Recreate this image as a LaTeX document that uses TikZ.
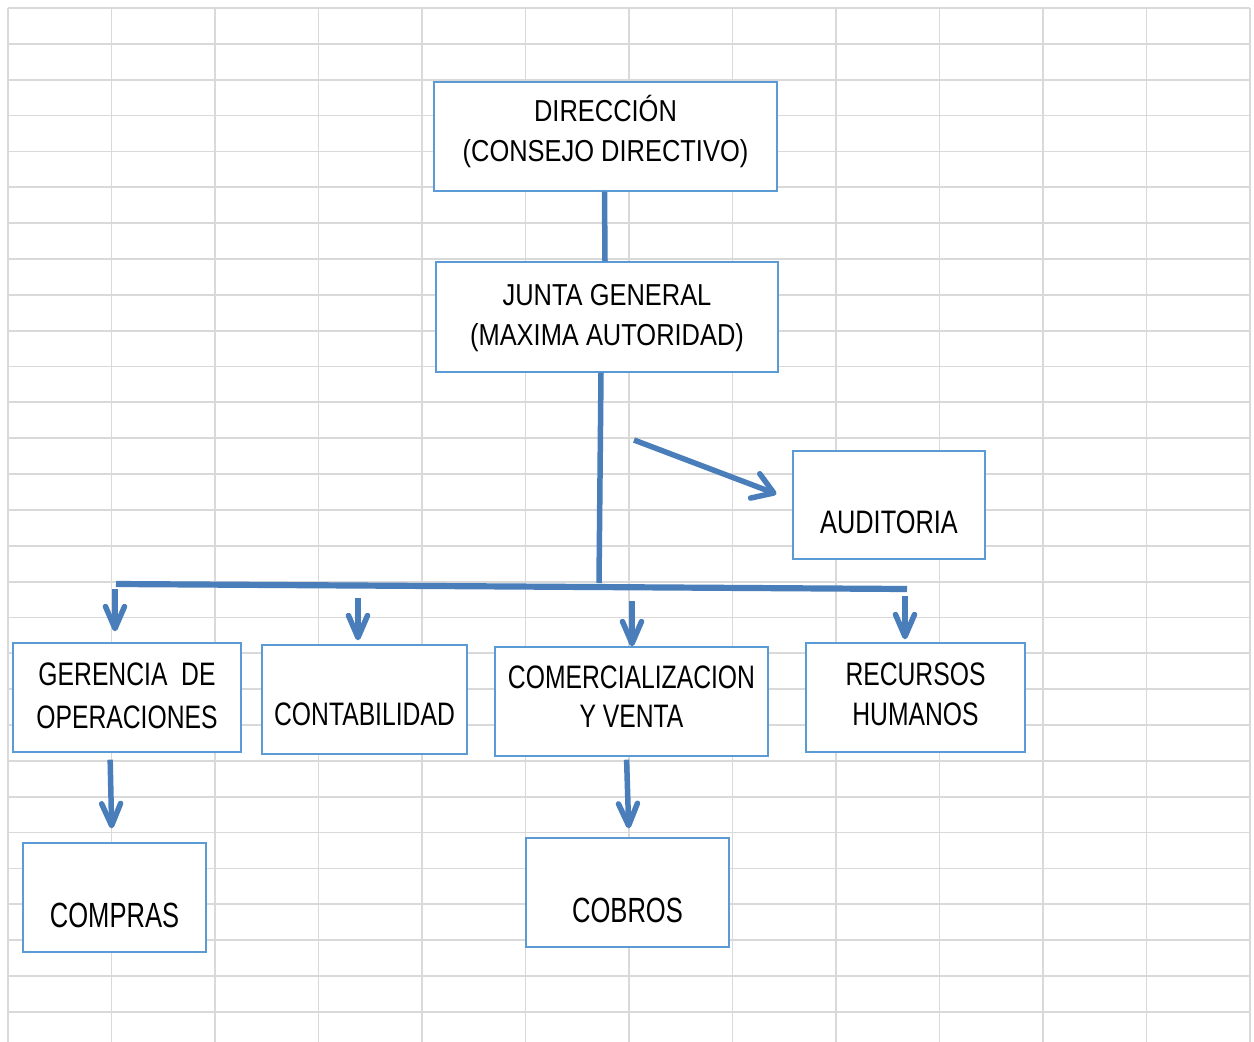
\documentclass[tikz,border=0pt]{standalone}
\usepackage{fontspec}
\setmainfont{Liberation Sans}
\newfontfamily\fA[FakeStretch=0.84]{Liberation Sans}
\newfontfamily\fB[FakeStretch=0.76]{Liberation Sans}
\newfontfamily\fC[FakeStretch=0.78]{Liberation Sans}
\newfontfamily\fD[FakeStretch=0.73]{Liberation Sans}
\newcommand\twoline[2]{\vtop{\halign{\hfil##\hfil\cr#1\cr#2\cr}}}
\usetikzlibrary{arrows.meta}
\definecolor{gridc}{RGB}{217,217,217}
\definecolor{boxc}{RGB}{91,155,213}
\definecolor{linec}{RGB}{74,126,187}
\begin{document}
\begin{tikzpicture}[x=1pt,y=-1pt,
  box/.style={draw=boxc, line width=1.4pt, fill=white, inner sep=0pt},
  ftop/.style={font={\fA\fontsize{30.3}{40}\selectfont}},
  fbot/.style={font={\fB\fontsize{32.5}{#1}\selectfont}},
  faud/.style={font={\fC\fontsize{32.5}{40}\selectfont}},
  fbig/.style={font={\fD\fontsize{35}{40}\selectfont}},
  conn/.style={draw=linec, line width=5.5pt},
  arr/.style={conn, -{Straight Barb[length=22pt,width=19pt,round]}},
  arrb/.style={conn, -{Straight Barb[length=20pt,width=26pt,round]}},
  gridl/.style={draw=gridc, line width=1.8pt}]
\useasboundingbox (0,0) rectangle (1254,1042);
\fill[white] (0,0) rectangle (1254,1042);
% spreadsheet grid
\foreach \k in {0,...,12} \draw[gridl] ({8+103.5*\k},8) -- ({8+103.5*\k},1042);
\foreach \k in {0,...,28} \draw[gridl] (8,{8+35.85*\k}) -- (1250,{8+35.85*\k});
% boxes
\node[box, ftop, minimum width=343pt, minimum height=109pt, text height=0pt, text depth=29.6pt] (dir) at (605.5,136.5) {\twoline{DIRECCIÓN}{(CONSEJO DIRECTIVO)}};
\node[box, ftop, minimum width=342pt, minimum height=110pt, text height=0pt, text depth=24pt] (junta) at (607,317) {\twoline{JUNTA GENERAL}{(MAXIMA AUTORIDAD)}};
\node[box, faud, minimum width=192pt, minimum height=108pt, text height=56.6pt, text depth=0pt] (audit) at (889,505) {AUDITORIA};
\node[box, fbot=43.3, minimum width=228pt, minimum height=109pt, text height=0pt, text depth=25pt] (ger) at (127,697.5) {\twoline{GERENCIA\ \ DE}{OPERACIONES}};
\node[box, fbot=40, minimum width=205pt, minimum height=109pt, text height=51pt, text depth=0pt] (cont) at (364.5,699.5) {CONTABILIDAD};
\node[box, fbot=39.4, minimum width=273pt, minimum height=109pt, text height=0pt, text depth=26.4pt] (comer) at (631.5,701.5) {\twoline{COMERCIALIZACION}{Y VENTA}};
\node[box, fbot=40, minimum width=219pt, minimum height=109pt, text height=0pt, text depth=25pt] (rec) at (915.5,697.5) {\twoline{RECURSOS}{HUMANOS}};
\node[box, fbig, minimum width=183pt, minimum height=109pt, text height=60pt, text depth=0pt] (compras) at (114.5,897.5) {COMPRAS};
\node[box, fbig, minimum width=203pt, minimum height=109pt, text height=60pt, text depth=0pt] (cobros) at (627.5,892.5) {COBROS};
% coordinates
\coordinate (barL) at (116,584);
\coordinate (barR) at (907,589);
\coordinate (jb) at (599,583);
\coordinate (a1) at (115,589);
\coordinate (a2) at (358,598);
\coordinate (a3) at (632,601);
\coordinate (a4) at (905,596);
\coordinate (a0) at (634,440);
% connectors
\draw[conn] ([xshift=-1pt]dir.south) -- ([xshift=-2pt]junta.north);
\draw[conn] ([xshift=-6pt]junta.south) -- (jb);
\draw[conn, line width=6.2pt] (barL) -- (barR);
\draw[arrb, shorten >=17pt] (a0) -- ([yshift=5pt]audit.west);
\draw[arr, shorten >=11pt] (a1) -- (a1 |- ger.north);
\draw[arr, shorten >=4pt] (a2) -- (a2 |- cont.north);
\draw[arr] (a3) -- (a3 |- comer.north);
\draw[arr, shorten >=3pt] (a4) -- (a4 |- rec.north);
\draw[arr, shorten <=7pt, shorten >=14pt] ([xshift=-17pt]ger.south) -- ([xshift=-2.5pt]compras.north);
\draw[arr, shorten <=3pt, shorten >=9pt] ([xshift=-5pt]comer.south) -- ([xshift=1.5pt]cobros.north);
\end{tikzpicture}
\end{document}
